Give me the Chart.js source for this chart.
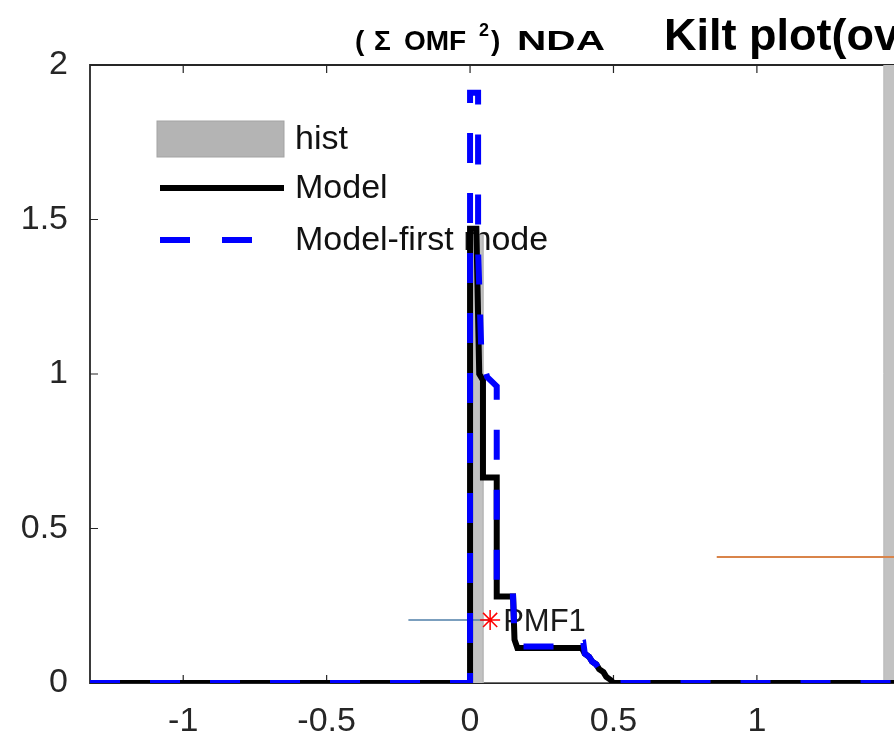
<!DOCTYPE html>
<html>
<head>
<meta charset="utf-8">
<script src="https://cdn.jsdelivr.net/npm/chart.js@4/dist/chart.umd.min.js"></script>
<style>
  html, body { margin: 0; padding: 0; background: #fff; overflow: hidden; }
  #wrap { width: 894px; height: 748px; }
</style>
</head>
<body>
<div id="wrap"><canvas id="chart" width="894" height="748"></canvas></div>
<script>
/* ===== data ===== */
const xTicks = [-1, -0.5, 0, 0.5, 1];
const xTickLabels = ["-1", "-0.5", "0", "0.5", "1"];
const yTicks = [0, 0.5, 1, 1.5, 2];
const yTickLabels = ["0", "0.5", "1", "1.5", "2"];
const xLimits = [-1.325, 1.478];
const yLimits = [0, 2];

// hist (gray bars)
const histX = [-1.325, 0.008, 0.008, 0.045, 0.045, 1.4425, 1.4425, 1.478];
const histY = [0, 0, 1.45, 1.45, 0, 0, 2.6, 2.6];

// Model (black solid)
const modelX = [-1.325, 0, 0, 0.022, 0.032, 0.045, 0.045, 0.093, 0.093, 0.15, 0.155, 0.165, 0.39, 0.40, 0.415, 0.425, 0.44, 0.45, 0.465, 0.475, 0.49, 0.5, 1.478];
const modelY = [0, 0, 1.47, 1.47, 1.0, 0.98, 0.665, 0.665, 0.28, 0.28, 0.14, 0.113, 0.113, 0.095, 0.085, 0.07, 0.06, 0.045, 0.035, 0.02, 0.01, 0, 0];

// Model-first mode (blue dashed)
const firstX = [-1.325, 0, 0, 0.028, 0.028, 0.04, 0.06, 0.093, 0.093, 0.15, 0.155, 0.165, 0.34, 0.395, 0.40, 0.415, 0.425, 0.44, 0.45, 0.465, 0.475, 0.49, 0.5, 1.478];
const firstY = [0, 0, 1.91, 1.91, 1.4, 1.05, 0.99, 0.96, 0.28, 0.28, 0.14, 0.118, 0.118, 0.13, 0.095, 0.085, 0.07, 0.06, 0.045, 0.035, 0.02, 0.01, 0, 0];

// PMF1 marker and its horizontal bar
const pmfPoint = [0.07, 0.204];
const pmfLineX = [-0.215, 0.075];
const pmfLineY = [0.204, 0.204];

// orange reference line
const orangeX = [0.86, 1.478];
const orangeY = [0.408, 0.408];

const pts = (xs, ys) => xs.map((x, i) => ({ x, y: ys[i] }));
const FONT = "'Liberation Sans', Arial, sans-serif";
const AXIS = "#262626";

/* ===== plugins ===== */
// MATLAB 스타일 박스, 안쪽 눈금, 범례, 주석
const frame = {
  id: "frame",
  beforeDatasetsDraw(chart) {
    const { ctx, chartArea: a, scales: { x, y } } = chart;
    ctx.save();
    ctx.strokeStyle = AXIS;
    ctx.lineWidth = 1.8;
    ctx.beginPath();
    ctx.moveTo(a.right, a.top); ctx.lineTo(a.left, a.top);
    ctx.lineTo(a.left, a.bottom); ctx.lineTo(a.right, a.bottom);
    ctx.stroke();
    const tl = 8;
    ctx.lineWidth = 1.2;
    ctx.beginPath();
    xTicks.forEach(v => {
      const px = x.getPixelForValue(v);
      ctx.moveTo(px, a.bottom); ctx.lineTo(px, a.bottom - tl);
      ctx.moveTo(px, a.top); ctx.lineTo(px, a.top + tl);
    });
    yTicks.forEach(v => {
      const py = y.getPixelForValue(v);
      ctx.moveTo(a.left, py); ctx.lineTo(a.left + tl, py);
    });
    ctx.stroke();

    // legend: under the data, no background
    const rows = [
      { ds: chart.data.datasets[2], cy: 139 },
      { ds: chart.data.datasets[1], cy: 188 },
      { ds: chart.data.datasets[0], cy: 240 },
    ];
    const lx = 157, lw = 127;
    rows.forEach(({ ds, cy }) => {
      if (ds.fill) {
        ctx.fillStyle = "#b4b4b4";
        ctx.fillRect(lx, cy - 18, lw, 36);
        ctx.strokeStyle = "#a3a3a3"; ctx.lineWidth = 1;
        ctx.strokeRect(lx, cy - 18, lw, 36);
      } else {
        ctx.strokeStyle = ds.borderColor; ctx.lineWidth = ds.borderWidth;
        ctx.setLineDash(ds.borderDash ? [30, 32] : []);
        ctx.beginPath(); ctx.moveTo(lx + 3, cy); ctx.lineTo(lx + lw, cy); ctx.stroke();
        ctx.setLineDash([]);
      }
      ctx.fillStyle = "#111";
      ctx.font = "34px " + FONT;
      ctx.textBaseline = "middle"; ctx.textAlign = "left";
      ctx.fillText(ds.label, lx + lw + 11, cy + 1);
    });

    // PMF1 label
    ctx.fillStyle = "#1a1a1a";
    ctx.font = "31px " + FONT;
    ctx.textBaseline = "middle";
    ctx.fillText("PMF1", x.getPixelForValue(pmfPoint[0]) + 13, y.getPixelForValue(pmfPoint[1]) + 2);
    ctx.restore();
  },
  afterDraw(chart) {
    const { ctx } = chart;
    ctx.save();
    ctx.fillStyle = "#000";
    ctx.textBaseline = "alphabetic"; ctx.textAlign = "left";
    ctx.font = "bold 28px " + FONT;
    ctx.fillText("(", 355, 50);
    ctx.fillText("\u03A3", 374, 50);
    ctx.fillText("OMF", 404, 50);
    ctx.font = "bold 18px " + FONT;
    ctx.fillText("2", 479, 36);
    ctx.font = "bold 28px " + FONT;
    ctx.fillText(")", 491, 50);
    // NDA is drawn a little wider, as in the source
    ctx.save();
    ctx.translate(517, 50);
    ctx.scale(1.45, 1);
    ctx.fillText("NDA", 0, 0);
    ctx.restore();
    ctx.font = "bold 45px " + FONT;
    ctx.fillText("Kilt plot(ov", 664, 50);
    ctx.restore();
  }
};

/* ===== chart ===== */
new Chart(document.getElementById("chart"), {
  type: "line",
  data: {
    datasets: [
      { label: "Model-first mode", data: pts(firstX, firstY), borderColor: "#0000ff", borderWidth: 6,
        borderDash: [30, 30], borderCapStyle: "butt", pointRadius: 0, order: 0 },
      { label: "Model", data: pts(modelX, modelY), borderColor: "#000000", borderWidth: 6,
        pointRadius: 0, order: 1 },
      { label: "hist", data: pts(histX, histY), borderColor: "#b8b8b8", borderWidth: 1,
        backgroundColor: "#c2c2c2", fill: "origin", pointRadius: 0, order: 5 },
      { label: "pmfbar", data: pts(pmfLineX, pmfLineY), borderColor: "#4f7fa8", borderWidth: 1.5,
        pointRadius: 0, order: 3 },
      { label: "ref", data: pts(orangeX, orangeY), borderColor: "#d9844a", borderWidth: 2,
        pointRadius: 0, order: 3 },
      { label: "PMF1", data: [{ x: pmfPoint[0], y: pmfPoint[1] }], borderColor: "#ff0000",
        backgroundColor: "#ff0000", pointStyle: "star", pointRadius: 10, borderWidth: 1.5,
        showLine: false, order: 0 },
    ]
  },
  options: {
    responsive: false,
    animation: false,
    devicePixelRatio: 1,
    layout: { autoPadding: false, padding: { top: 65, right: 0, left: 0, bottom: 0 } },
    elements: { line: { tension: 0 } },
    plugins: { legend: { display: false }, title: { display: false }, tooltip: { enabled: false } },
    scales: {
      x: {
        type: "linear", min: xLimits[0], max: xLimits[1],
        grid: { display: false }, border: { display: false },
        afterBuildTicks: s => { s.ticks = xTicks.map(v => ({ value: v })); },
        afterFit: s => { s.height = 65; s.paddingLeft = 0; s.paddingRight = 0; },
        ticks: { callback: v => xTickLabels[xTicks.indexOf(v)], color: AXIS, padding: 10,
          font: { family: FONT, size: 34 }, maxRotation: 0, autoSkip: false }
      },
      y: {
        type: "linear", min: yLimits[0], max: yLimits[1],
        grid: { display: false }, border: { display: false },
        afterBuildTicks: s => { s.ticks = yTicks.map(v => ({ value: v })); },
        afterFit: s => { s.width = 90; s.paddingTop = 0; s.paddingBottom = 0; },
        ticks: { callback: v => yTickLabels[yTicks.indexOf(v)], color: AXIS, padding: 14,
          font: { family: FONT, size: 34 } }
      }
    }
  },
  plugins: [frame]
});
</script>
</body>
</html>
